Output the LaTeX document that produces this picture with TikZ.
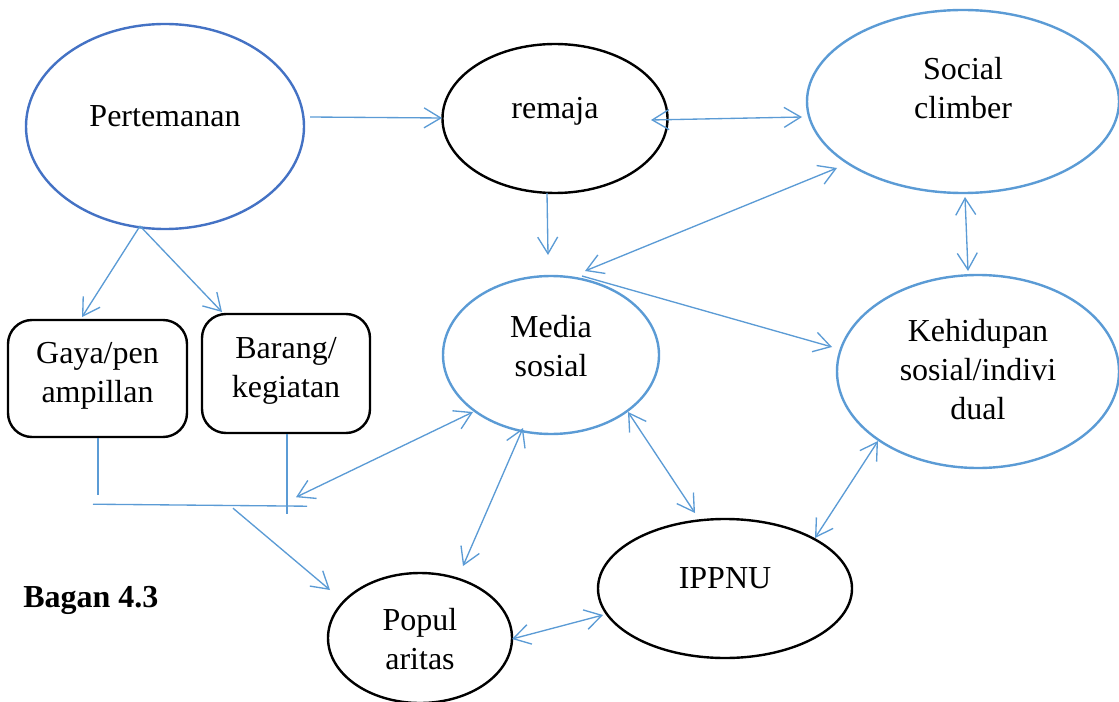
\documentclass[tikz,border=0pt]{standalone}
\usepackage{fontspec}
\setmainfont{Liberation Serif}
\usetikzlibrary{shapes.geometric,arrows.meta,calc}
\definecolor{lblue}{HTML}{5B9BD5}
\definecolor{dblue}{HTML}{4472C4}
\begin{document}
\begin{tikzpicture}[x=0.75pt,y=-0.75pt,
  >={Straight Barb[length=12.5pt,width=15pt]},
  txt/.style={font=\fontsize{24}{29.25}\selectfont, align=center, inner sep=0pt,
              execute at begin node=\strut, execute at end node=\strut},
  oval/.style={ellipse, line width=1.8pt, inner sep=0pt},
  box/.style={rectangle, rounded corners=18pt, draw=black, line width=1.8pt, inner sep=0pt, txt},
  link/.style={draw=lblue, line width=1pt}]

\clip (0,0) rectangle (1119,702);

% concept ovals
\node[oval, draw=dblue, minimum width=208.5pt, minimum height=153.75pt,
      label={[txt,yshift=6.2pt]center:Pertemanan}] (pert) at (165,126.5) {};
\node[oval, draw=black, minimum width=168.75pt, minimum height=111.75pt,
      label={[txt,yshift=6.2pt]center:remaja}] (remaja) at (555,118.5) {};
\node[oval, draw=lblue, minimum width=234pt, minimum height=137.25pt,
      label={[txt,yshift=5.5pt]center:Social\\climber}] (social) at (963,101.5) {};
\node[oval, draw=lblue, minimum width=162pt, minimum height=118.5pt,
      label={[txt,yshift=2.5pt]center:Media\\sosial}] (media) at (551,355) {};
\node[oval, draw=lblue, minimum width=211.5pt, minimum height=144.75pt,
      label={[txt,yshift=-2.8pt]center:Kehidupan\\sosial/indivi\\dual}] (keh) at (978,371.5) {};
\node[oval, draw=black, minimum width=190.5pt, minimum height=104.25pt,
      label={[txt,yshift=6.2pt]center:IPPNU}] (ippnu) at (725,588.5) {};
\node[oval, draw=black, minimum width=138pt, minimum height=97.5pt,
      label={[txt,yshift=-5pt]center:Popul\\aritas}] (popul) at (420,638) {};

% rounded boxes
\node[box, minimum width=134.25pt, minimum height=87.75pt] (gaya) at (97.5,378.5) {Gaya/pen\\ampillan};
\node[box, minimum width=126pt, minimum height=89.25pt] (barang) at (286,373.5) {Barang/\\kegiatan};

% caption
\node[anchor=base west, inner sep=0pt, font=\fontsize{24}{29.25}\selectfont\bfseries] (bagan) at (23,607) {Bagan 4.3};

% joining bar under the two boxes
\coordinate (busL) at ($(gaya.south)+(-4.5,66)$);
\coordinate (busR) at ($(barang.south)+(21,72)$);
\coordinate (busT) at ($(barang.south)+(10,63)$);
\coordinate (busD) at ($(busL)+(140,4)$);
\draw[link] ($(gaya.south)+(0.5,0)$) -- ($(gaya.south)+(0.5,57)$);
\draw[link] ($(barang.south)+(1,0)$) -- ($(barang.south)+(1,80)$);
\draw[link] (busL) -- (busR);

% connectors
\draw[link,->] ($(pert)+(145,-9.5)$) -- ($(remaja)+(-113,-0.5)$);
\draw[link,<->] ($(remaja)+(96,1.5)$) -- ($(social)+(-161,15.5)$);
\draw[link,->] ($(remaja)+(-8,74.5)$) -- ($(media)+(-3,-100)$);
\draw[link,<->] ($(social)+(-126,66.5)$) -- ($(media)+(34,-84)$);
\draw[link,->] ($(media)+(31,-79)$) -- ($(keh)+(-146,-24.5)$);
\draw[link,<->] ($(social)+(2,95.5)$) -- ($(keh)+(-10,-100.5)$);
\draw[link,->] ($(pert)+(-25,99.5)$) -- ($(gaya)+(-15.5,-61.5)$);
\draw[link,->] ($(pert)+(-25,99.5)$) -- ($(barang)+(-64,-61.5)$);
\draw[link,<->] ($(media)+(-78,57)$) -- (busT);
\draw[link,->] (busD) -- ($(popul)+(-90,-48)$);
\draw[link,<->] ($(popul)+(43,-72)$) -- ($(media)+(-28,73)$);
\draw[link,<->] ($(media)+(77,57)$) -- ($(ippnu)+(-30,-75.5)$);
\draw[link,<->] ($(keh)+(-100,69.5)$) -- ($(ippnu)+(90,-50.5)$);
\draw[link,<->] ($(popul)+(92,1)$) -- ($(ippnu)+(-122,26.5)$);
\end{tikzpicture}
\end{document}
